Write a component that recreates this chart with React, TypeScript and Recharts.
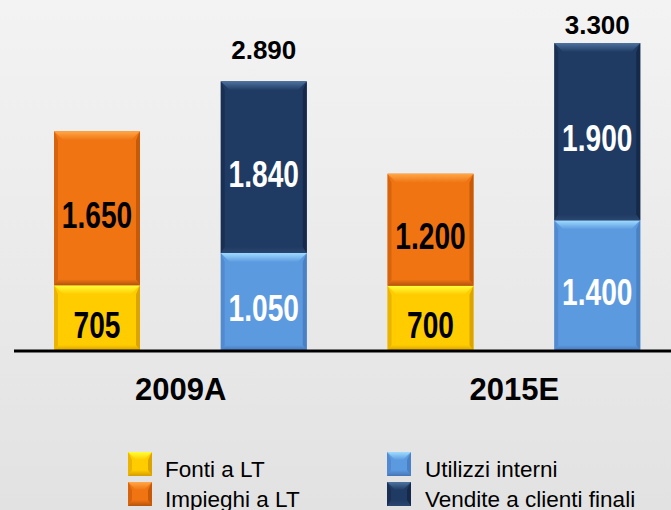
import React from "react";
import { BarChart, Bar, XAxis, YAxis, LabelList, Legend } from "recharts";

// ---- data ----
const categories = ["2009A", "2015E"];
const fontiLT = [705, 700];
const impieghiLT = [1650, 1200];
const utilizziInterni = [1050, 1400];
const venditeClienti = [1840, 1900];
const seriesNames = {
  fonti: "Fonti a LT",
  impieghi: "Impieghi a LT",
  utilizzi: "Utilizzi interni",
  vendite: "Vendite a clienti finali",
};

type Row = {
  key: string;
  group: string;
  fonti?: number;
  impieghi?: number;
  utilizzi?: number;
  vendite?: number;
  total?: number;
};

const rows: Row[] = [];
categories.forEach((c, i) => {
  rows.push({ key: c + "-a", group: c, fonti: fontiLT[i], impieghi: impieghiLT[i] });
  rows.push({
    key: c + "-b",
    group: c,
    utilizzi: utilizziInterni[i],
    vendite: venditeClienti[i],
    total: utilizziInterni[i] + venditeClienti[i],
  });
});

// ---- styles ----
type Pal = { base: string; top: string; side: string; bottom: string; text: string };
const PAL: Record<string, Pal> = {
  fonti: { base: "#ffcc00", top: "#ffff3a", side: "#dca400", bottom: "#d49c00", text: "#000" },
  impieghi: { base: "#f07412", top: "#ffa848", side: "#c65a08", bottom: "#b4540c", text: "#000" },
  utilizzi: { base: "#5c9ae0", top: "#a0dcff", side: "#4a80c4", bottom: "#4674b4", text: "#fff" },
  vendite: { base: "#1f3b63", top: "#4e73a0", side: "#152a4a", bottom: "#2a4670", text: "#fff" },
};

const W = 700;
const H = 510;
const M = { top: 0, right: 19, left: 14, bottom: 129 };
const BAND = (W - M.left - M.right) / rows.length;

const fmt = (v: number) => String(v).replace(/\B(?=(\d{3})+(?!\d))/g, ".");

function Bevel(props: any) {
  const { x, y, width: w, height: h, pal, id } = props;
  if (!h || h <= 0 || !w) return null;
  const t = Math.min(9, h / 3);
  const s = 4;
  const b = Math.min(6, h / 4);
  return (
    <g>
      <defs>
        <linearGradient id={`t-${id}`} x1="0" y1="0" x2="0" y2="1">
          <stop offset="0" stopColor={pal.top} />
          <stop offset="1" stopColor={pal.base} />
        </linearGradient>
        <linearGradient id={`b-${id}`} x1="0" y1="0" x2="0" y2="1">
          <stop offset="0" stopColor={pal.base} />
          <stop offset="1" stopColor={pal.bottom} />
        </linearGradient>
      </defs>
      <rect x={x} y={y} width={w} height={h} fill={pal.base} />
      <polygon
        points={`${x},${y + h} ${x + w},${y + h} ${x + w - s},${y + h - b} ${x + s},${y + h - b}`}
        fill={`url(#b-${id})`}
      />
      <polygon
        points={`${x},${y} ${x + s},${y + t} ${x + s},${y + h - b} ${x},${y + h}`}
        fill={pal.side}
        opacity={0.6}
      />
      <polygon
        points={`${x + w},${y} ${x + w - s},${y + t} ${x + w - s},${y + h - b} ${x + w},${y + h}`}
        fill={pal.side}
      />
      <polygon
        points={`${x},${y} ${x + w},${y} ${x + w - t},${y + t} ${x + t},${y + t}`}
        fill={`url(#t-${id})`}
      />
    </g>
  );
}

const shapeFor = (k: string) => (p: any) => <Bevel {...p} pal={PAL[k]} id={`${k}-${p.index}`} />;

const insideLabel = (k: string) => (p: any) => {
  const { x, y, width, height, value } = p;
  if (value == null || !height) return null;
  const cx = x + width / 2;
  const cy = y + height / 2 + 6.5;
  return (
    <text
      transform={`translate(${cx},${cy}) scale(0.76,1)`}
      x={0}
      y={0}
      textAnchor="middle"
      dominantBaseline="central"
      fill={PAL[k].text}
      style={{ fontFamily: "'Liberation Sans', Arial, sans-serif", fontWeight: 700, fontSize: 37 }}
    >
      {fmt(value)}
    </text>
  );
};

const totalLabel = (p: any) => {
  const { x, y, width, value } = p;
  if (value == null) return null;
  return (
    <text
      x={x + width / 2}
      y={Math.max(y - 22, 34)}
      textAnchor="middle"
      fill="#000"
      style={{ fontFamily: "'Liberation Sans', Arial, sans-serif", fontWeight: 700, fontSize: 26 }}
    >
      {fmt(value)}
    </text>
  );
};

const GroupTick = (p: any) => {
  const { x, y, payload } = p;
  if (payload.index % 2 !== 0) return null;
  const row = rows[payload.index];
  return (
    <text
      x={x + BAND / 2}
      y={y + 41}
      textAnchor="middle"
      fill="#000"
      style={{ fontFamily: "'Liberation Sans', Arial, sans-serif", fontWeight: 700, fontSize: 31 }}
    >
      {row.group}
    </text>
  );
};

const LegendContent = (props: any) => {
  const payload = props.payload || [];
  return (
    <svg
      width={W}
      height={H}
      style={{ display: "block", position: "absolute", left: 0, top: 0, overflow: "visible", pointerEvents: "none" }}
    >
      {payload.map((e: any, i: number) => {
        const col = Math.floor(i / 2);
        const row = i % 2;
        const ix = col === 0 ? 128 : 387;
        const tx = col === 0 ? 165 : 425;
        const iy = 452 + row * 30;
        const k = e.dataKey as string;
        return (
          <g key={k}>
            <Bevel x={ix} y={iy} width={24} height={24} pal={PAL[k]} id={`leg-${k}`} />
            <text
              x={tx}
              y={iy + 25}
              fill="#000"
              style={{ fontFamily: "'Liberation Sans', Arial, sans-serif", fontSize: 22.5 }}
            >
              {e.value}
            </text>
          </g>
        );
      })}
    </svg>
  );
};

export default function App() {
  return (
    <div
      style={{
        position: "fixed",
        left: 0,
        top: 0,
        width: 671,
        height: 510,
        overflow: "hidden",
        background: "linear-gradient(#f3f3f3, #e2e2e2)",
      }}
    >
      <BarChart width={W} height={H} data={rows} margin={M} barSize={86}>
        <YAxis hide domain={[0, 3761]} />
        <XAxis
          dataKey="key"
          axisLine={{ stroke: "#000", strokeWidth: 3 }}
          tickLine={false}
          tick={GroupTick}
          interval={0}
        />
        <Legend
          layout="horizontal"
          verticalAlign="middle"
          align="left"
          content={LegendContent}
          wrapperStyle={{ position: "absolute", left: 0, top: 0, width: 0, height: 0, overflow: "visible" }}
        />
        {(["fonti", "impieghi", "utilizzi", "vendite"] as const).map((k) => (
          <Bar
            key={k}
            dataKey={k}
            name={seriesNames[k]}
            stackId="s"
            fill={PAL[k].base}
            shape={shapeFor(k)}
            isAnimationActive={false}
          >
            <LabelList dataKey={k} content={insideLabel(k)} />
            {k === "vendite" ? <LabelList dataKey="total" content={totalLabel} /> : null}
          </Bar>
        ))}
      </BarChart>
    </div>
  );
}
